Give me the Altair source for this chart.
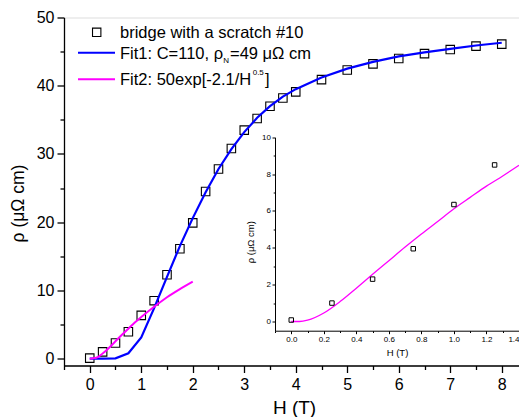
import altair as alt
import pandas as pd

# ---------------- data ----------------
H = [0, 0.25, 0.5, 0.75, 1.0, 1.25, 1.5, 1.75, 2.0, 2.25, 2.5, 2.75, 3.0,
     3.25, 3.5, 3.75, 4.0, 4.5, 5.0, 5.5, 6.0, 6.5, 7.0, 7.5, 8.0]
RHO = [0.08, 1.0, 2.3, 3.95, 6.35, 8.5, 12.3, 16.1, 19.9, 24.5, 27.8, 30.8, 33.5,
       35.2, 37.0, 38.2, 39.1, 40.9, 42.3, 43.2, 44.0, 44.7, 45.3, 45.8, 46.1]

FIT1_H = H
FIT1 = [0.0, 0.0, 0.05, 0.8, 3.1, 7.4, 12.0, 16.5, 20.6, 24.4, 27.8, 30.7, 33.2,
        35.3, 37.0, 38.4, 39.5, 41.2, 42.5, 43.5, 44.3, 44.9, 45.4, 45.9, 46.3]

FIT2_H = [0, 0.125, 0.25, 0.375, 0.5, 0.625, 0.75, 0.875, 1.0, 1.25, 1.5, 1.75, 2.0]
FIT2 = [0.0, 0.13, 0.75, 1.6, 2.55, 3.5, 4.4, 5.3, 6.1, 7.6, 9.0, 10.2, 11.3]

INSET_H = [0, 0.25, 0.5, 0.75, 1.0, 1.25]
INSET_RHO = [0.08, 1.0, 2.3, 3.95, 6.35, 8.5]

INSET_FIT_H = [0, 0.05, 0.1, 0.2, 0.3, 0.4, 0.5, 0.6, 0.7, 0.8, 0.9, 1.0, 1.1, 1.2, 1.3, 1.4]
INSET_FIT = [0.0, 0.0, 0.07, 0.46, 1.08, 1.81, 2.56, 3.3, 4.04, 4.75, 5.43, 6.12, 6.74, 7.35, 7.9, 8.48]

X_MAJOR = [0, 1, 2, 3, 4, 5, 6, 7, 8]
X_MINOR = [-0.5, 0.5, 1.5, 2.5, 3.5, 4.5, 5.5, 6.5, 7.5]
Y_MAJOR = [0, 10, 20, 30, 40, 50]
Y_MINOR = [5, 15, 25, 35, 45]
IX_MAJOR = [0.0, 0.2, 0.4, 0.6, 0.8, 1.0, 1.2, 1.4]
IX_MINOR = [-0.1, 0.1, 0.3, 0.5, 0.7, 0.9, 1.1, 1.3]
IY_MAJOR = [0, 2, 4, 6, 8, 10]
IY_MINOR = [1, 3, 5, 7, 9]

# ---------------- layout ----------------
FONT = "Liberation Sans"
PX_PER_X = 51.5
W = 455
XDOM = [-0.5, -0.5 + W / PX_PER_X]
HT = 348
YDOM = [-1, 50]

BLUE = "#0000ff"
PINK = "#ff00ff"

xs = alt.Scale(domain=XDOM, nice=False, zero=False)
ys = alt.Scale(domain=YDOM, nice=False, zero=False)

common_axis = dict(grid=False, domainColor="black", tickColor="black",
                   labelColor="black", titleColor="black", labelFont=FONT,
                   titleFont=FONT, titleFontWeight="normal")

x_major = alt.Axis(values=X_MAJOR, format="d", tickSize=7, tickWidth=1.3,
                   domainWidth=1.3, labelFontSize=16, labelPadding=4,
                   title="H (T)", titleFontSize=19, titleX=230, titleY=47.5,
                   titleAlign="center", titleBaseline="alphabetic",
                   orient="bottom", **common_axis)
x_minor = alt.Axis(values=X_MINOR, tickSize=4, tickWidth=1.3, domain=False,
                   labels=False, title=None, orient="bottom", grid=False,
                   tickColor="black")
y_major = alt.Axis(values=Y_MAJOR, format="d", tickSize=7, tickWidth=1.3,
                   domainWidth=1.3, labelFontSize=16, labelPadding=3,
                   title="ρ (μΩ cm)", titleFontSize=17.5, titleAngle=270,
                   titleX=-41, titleY=185.5, titleAlign="center",
                   titleBaseline="alphabetic", orient="left", **common_axis)
y_minor = alt.Axis(values=Y_MINOR, tickSize=4, tickWidth=1.3, domain=False,
                   labels=False, title=None, orient="left", grid=False,
                   tickColor="black")

df_pts = pd.DataFrame({"H": H, "rho": RHO})
df_fit1 = pd.DataFrame({"H": FIT1_H, "rho": FIT1})
df_fit2 = pd.DataFrame({"H": FIT2_H, "rho": FIT2})

pts = alt.Chart(df_pts).mark_point(shape="square", filled=False, color="black",
                                   size=72, strokeWidth=1.1, opacity=1).encode(
    x=alt.X("H:Q", scale=xs, axis=x_major),
    y=alt.Y("rho:Q", scale=ys, axis=y_major),
)
fit1 = alt.Chart(df_fit1).mark_line(color=BLUE, strokeWidth=2.2).encode(
    x=alt.X("H:Q", scale=xs, axis=x_minor),
    y=alt.Y("rho:Q", scale=ys, axis=y_minor),
)
fit2 = alt.Chart(df_fit2).mark_line(color=PINK, strokeWidth=2.0, interpolate="monotone").encode(
    x=alt.X("H:Q", scale=xs, axis=None),
    y=alt.Y("rho:Q", scale=ys, axis=None),
)

# manual legend (pixel positions inside the plot area)
one = pd.DataFrame({"a": [0]})
def txt(s, x, y, size=16.5):
    return alt.Chart(one).mark_text(text=s, align="left", baseline="alphabetic",
                                    font=FONT, fontSize=size, color="black").encode(
        x=alt.value(x), y=alt.value(y))

leg_sq = alt.Chart(one).mark_point(shape="square", filled=False, color="black",
                                   size=70, strokeWidth=1.1, opacity=1).encode(
    x=alt.value(32.7), y=alt.value(14.8))
leg_l1 = alt.Chart(one).mark_rule(color=BLUE, strokeWidth=2).encode(
    x=alt.value(14), x2=alt.value(51), y=alt.value(35.2))
leg_l2 = alt.Chart(one).mark_rule(color=PINK, strokeWidth=2).encode(
    x=alt.value(14), x2=alt.value(51), y=alt.value(61.8))
legend = alt.layer(
    leg_sq, leg_l1, leg_l2,
    txt("bridge with a scratch #10", 56, 20.2),
    txt("Fit1: C=110, ρ", 56, 41.2),
    txt("N", 159.3, 45.8, 8),
    txt("=49 μΩ cm", 166, 41.2),
    txt("Fit2: 50exp[-2.1/H", 56, 67.8),
    txt("0.5", 188.7, 57.5, 8),
    txt("]", 201, 67.8),
)

main = alt.layer(pts, fit1, fit2, legend).resolve_axis(x="independent", y="independent")

# ---------------- inset ----------------
IX_RANGE = [211.0, 455.0]
IY_RANGE = [313.2, 119.8]
ixs = alt.Scale(domain=[-0.1, 1.4], range=IX_RANGE, nice=False, zero=False)
iys = alt.Scale(domain=[-0.5, 10], range=IY_RANGE, nice=False, zero=False)

ix_major = alt.Axis(values=IX_MAJOR, format=".1f", tickSize=3, tickWidth=1,
                    domainWidth=1, labelFontSize=8, labelPadding=2,
                    labelFlush=True,
                    orient="bottom", offset=-(HT - IY_RANGE[0]),
                    title="H (T)", titleFontSize=9.5, titleX=333, titleY=24.3,
                    titleAlign="center", titleBaseline="alphabetic", **common_axis)
ix_minor = alt.Axis(values=IX_MINOR, tickSize=1.8, tickWidth=1, domain=False,
                    labels=False, title=None, orient="bottom",
                    offset=-(HT - IY_RANGE[0]), grid=False, tickColor="black")
iy_major = alt.Axis(values=IY_MAJOR, format="d", tickSize=3, tickWidth=1,
                    domainWidth=1, labelFontSize=8, labelPadding=1.5,
                    orient="left", offset=-IX_RANGE[0],
                    title="ρ (μΩ cm)", titleFontSize=9.5, titleAngle=270,
                    titleX=-21.3, titleY=224.2, titleAlign="center",
                    titleBaseline="alphabetic", **common_axis)
iy_minor = alt.Axis(values=IY_MINOR, tickSize=1.8, tickWidth=1, domain=False,
                    labels=False, title=None, orient="left",
                    offset=-IX_RANGE[0], grid=False, tickColor="black")

df_ipts = pd.DataFrame({"H": INSET_H, "rho": INSET_RHO})
df_ifit = pd.DataFrame({"H": INSET_FIT_H, "rho": INSET_FIT})

ipts = alt.Chart(df_ipts).mark_point(shape="square", filled=False, color="black",
                                     size=20, strokeWidth=1, opacity=1).encode(
    x=alt.X("H:Q", scale=ixs, axis=ix_major),
    y=alt.Y("rho:Q", scale=iys, axis=iy_major),
)
ifit = alt.Chart(df_ifit).mark_line(color=PINK, strokeWidth=1.3, interpolate="monotone").encode(
    x=alt.X("H:Q", scale=ixs, axis=ix_minor),
    y=alt.Y("rho:Q", scale=iys, axis=iy_minor),
)
inset = alt.layer(ifit, ipts).resolve_axis(x="independent", y="independent")

chart = alt.layer(main, inset).resolve_scale(
    x="independent", y="independent"
).properties(
    width=W, height=HT,
    padding={"left": 56, "top": 9.5, "right": 0, "bottom": 51},
    autosize=alt.AutoSizeParams(type="none"),
).configure_view(stroke=None).configure(background="white")

chart.save("out.html", embed_options={"renderer": "svg", "actions": False})
